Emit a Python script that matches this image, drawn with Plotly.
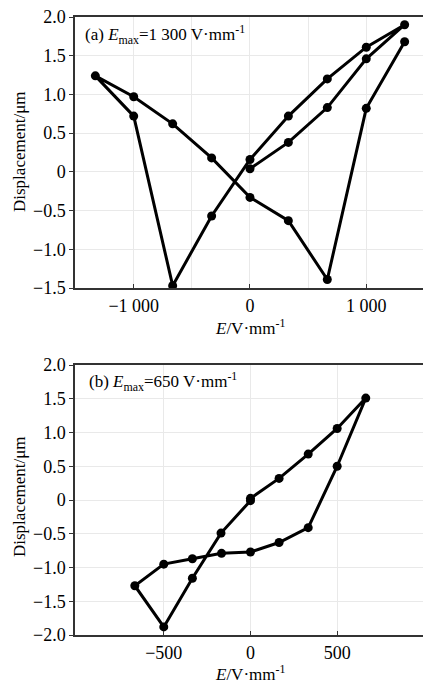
import plotly.graph_objects as go

# Panel (a): E_max = 1300 V/mm
e_a = [0, 330, 665, 1000, 1330, 1000, 665, 330, 0, -330, -665, -1000, -1330,
       -1000, -665, -330, 0, 330, 665, 1000, 1330]
d_a = [0.04, 0.38, 0.83, 1.46, 1.90, 1.61, 1.20, 0.72, 0.16, -0.57, -1.47, 0.72, 1.24,
       0.97, 0.62, 0.18, -0.33, -0.63, -1.39, 0.82, 1.68]

# Panel (b): E_max = 650 V/mm
e_b = [0, 165, 333, 500, 665, 500, 333, 165, 0, -167, -335, -500, -667, -500, -335, -170, 0]
d_b = [0.025, 0.32, 0.68, 1.06, 1.51, 0.50, -0.41, -0.63, -0.77, -0.79, -0.87, -0.95,
       -1.27, -1.88, -1.16, -0.49, -0.01]

ytick_vals_a = [-1.5, -1.0, -0.5, 0, 0.5, 1.0, 1.5, 2.0]
ytick_text_a = ["\u22121.5", "\u22121.0", "\u22120.5", "0", "0.5", "1.0", "1.5", "2.0"]
ytick_vals_b = [-2.0, -1.5, -1.0, -0.5, 0, 0.5, 1.0, 1.5, 2.0]
ytick_text_b = ["\u22122.0", "\u22121.5", "\u22121.0", "\u22120.5", "0", "0.5", "1.0", "1.5", "2.0"]
xtick_vals_a = [-1000, 0, 1000]
xtick_text_a = ["\u22121 000", "0", "1 000"]
xtick_vals_b = [-500, 0, 500]
xtick_text_b = ["\u2212500", "0", "500"]

FONT = "Liberation Serif, Times New Roman, serif"
fig = go.Figure()
line = dict(color="black", width=3)
marker = dict(color="black", size=9)
fig.add_trace(go.Scatter(x=e_a, y=d_a, mode="lines+markers", line=line, marker=marker,
                         xaxis="x", yaxis="y", showlegend=False, hoverinfo="skip"))
fig.add_trace(go.Scatter(x=e_b, y=d_b, mode="lines+markers", line=line, marker=marker,
                         xaxis="x2", yaxis="y2", showlegend=False, hoverinfo="skip"))

H = 684
t, b = 17, 49
ph = H - t - b

def pv(px):
    return (H - b - px) / ph

grid = "#e9e9e9"
axcol = "#333333"
common_x = dict(showline=True, linecolor=axcol, linewidth=1.5, mirror=True,
                ticks="inside", ticklen=4, tickcolor=axcol, tickwidth=1,
                showgrid=True, gridcolor=grid, gridwidth=1, zeroline=False,
                tickfont=dict(family=FONT, size=18, color="black"), ticklabelstandoff=1)
common_y = dict(showline=True, linecolor=axcol, linewidth=1.5, mirror=False,
                ticks="outside", ticklen=4, tickcolor=axcol, tickwidth=1,
                showgrid=True, gridcolor=grid, gridwidth=1, zeroline=False,
                tickfont=dict(family=FONT, size=18, color="black"))

fig.update_layout(
    width=423, height=H,
    margin=dict(l=75, r=0, t=t, b=b),
    paper_bgcolor="white", plot_bgcolor="white",
    xaxis=dict(common_x, domain=[0, 1], anchor="y", range=[-1505, 1488],
               tickvals=xtick_vals_a, ticktext=xtick_text_a,
               minor=dict(tick0=0, dtick=500, showgrid=True, gridcolor=grid, ticks="")),
    yaxis=dict(common_y, domain=[pv(288), 1], anchor="x", range=[-1.5, 2.0],
               tickvals=ytick_vals_a, ticktext=ytick_text_a),
    xaxis2=dict(common_x, domain=[0, 1], anchor="y2", range=[-1012, 995],
                tickvals=xtick_vals_b, ticktext=xtick_text_b),
    yaxis2=dict(common_y, domain=[0, pv(365)], anchor="x2", range=[-2.0, 2.0],
                tickvals=ytick_vals_b, ticktext=ytick_text_b),
)

ann_font = dict(family=FONT, size=17, color="black")
title_font = dict(family=FONT, size=17, color="black")
fig.add_annotation(text="(a) <i>E</i><sub>max</sub>=1 300 V\u00b7mm<sup>-1</sup>",
                   xref="x domain", yref="y domain", x=0.022, y=0.935,
                   xanchor="left", yanchor="middle", showarrow=False, font=ann_font)
fig.add_annotation(text="(b) <i>E</i><sub>max</sub>=650 V\u00b7mm<sup>-1</sup>",
                   xref="x2 domain", yref="y2 domain", x=0.034, y=0.94,
                   xanchor="left", yanchor="middle", showarrow=False, font=ann_font)
# axis titles
fig.add_annotation(text="<i>E</i>/V\u00b7mm<sup>-1</sup>", xref="x", yref="paper",
                   x=0, y=pv(327), xanchor="center", yanchor="middle",
                   showarrow=False, font=title_font)
fig.add_annotation(text="<i>E</i>/V\u00b7mm<sup>-1</sup>", xref="x2", yref="paper",
                   x=0, y=pv(673), xanchor="center", yanchor="middle",
                   showarrow=False, font=title_font)
fig.add_annotation(text="Displacement/\u03bcm", xref="paper", yref="paper",
                   x=(19 - 75) / 348, y=pv(152), xanchor="center", yanchor="middle",
                   textangle=-90, showarrow=False, font=title_font)
fig.add_annotation(text="Displacement/\u03bcm", xref="paper", yref="paper",
                   x=(19 - 75) / 348, y=pv(497), xanchor="center", yanchor="middle",
                   textangle=-90, showarrow=False, font=title_font)

fig.write_html("out.html",
               config={"displayModeBar": False},
               post_script="document.body.style.margin='0';"
                           "document.documentElement.style.overflow='hidden';")
